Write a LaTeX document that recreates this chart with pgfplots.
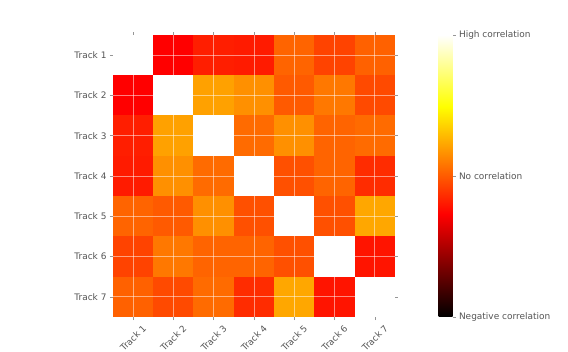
\documentclass[border=0pt]{standalone}
\usepackage{pgfplots}
\pgfplotsset{compat=1.18}
\usepackage{fontspec}
\setmainfont{DejaVu Sans}
\definecolor{txt}{RGB}{85,85,85}
\definecolor{tk}{RGB}{150,150,150}
\pgfplotstableread{
x y c
0 6 1
1 6 -0.27
2 6 -0.18
3 6 -0.19
4 6 0.03
5 6 -0.07
6 6 0.02
0 5 -0.27
1 5 1
2 5 0.21
3 5 0.16
4 5 0.00
5 5 0.09
6 5 -0.05
0 4 -0.18
1 4 0.21
2 4 1
3 4 0.05
4 4 0.16
5 4 0.03
6 4 0.05
0 3 -0.19
1 3 0.16
2 3 0.05
3 3 1
4 3 -0.03
5 3 0.03
6 3 -0.14
0 2 0.03
1 2 0.00
2 2 0.16
3 2 -0.03
4 2 1
5 2 -0.03
6 2 0.23
0 1 -0.07
1 1 0.09
2 1 0.03
3 1 0.03
4 1 -0.03
5 1 1
6 1 -0.21
0 0 0.02
1 0 -0.05
2 0 0.05
3 0 -0.14
4 0 0.23
5 0 -0.21
6 0 1
}\corr
\begin{document}
\begin{tikzpicture}
\begin{axis}[
  name=main,
  at={(113bp,35bp)}, anchor=south west,
  scale only axis, width=282bp, height=282bp,
  xmin=-0.5, xmax=6.5, ymin=-0.5, ymax=6.5,
  axis line style={draw=none},
  xtick={0,...,6}, ytick={0,...,6},
  xticklabels={Track 1,Track 2,Track 3,Track 4,Track 5,Track 6,Track 7},
  yticklabels={Track 7,Track 6,Track 5,Track 4,Track 3,Track 2,Track 1},
  tick align=outside, major tick length=3bp,
  tick style={tk, line width=0.6bp},
  grid=major, major grid style={white, opacity=0.5, line width=0.8bp},
  axis on top,
  colormap={hot}{rgb255(0cm)=(0,0,0) rgb255(3.65cm)=(255,0,0) rgb255(7.46cm)=(255,255,0) rgb255(10cm)=(255,255,255)},
  point meta min=-1, point meta max=1,
  font=\fontsize{9}{10}\selectfont,
  ticklabel style={text=txt},
  xticklabel style={yshift=-18bp, rotate=45, anchor=center},
  colorbar,
  colorbar style={
    at={(430bp,317bp)}, anchor=north west,
    scale only axis, width=14bp, height=282bp,
    ytick={-1,0,1},
    yticklabels={Negative correlation,No correlation,High correlation},
    ytick pos=right, yticklabel pos=right,
    xtick=\empty,
    axis line style={draw=none},
    tick align=outside, major tick length=3bp,
    ytick style={draw=tk, line width=0.6bp},
    font=\fontsize{9}{10}\selectfont,
    yticklabel style={text=txt},
  },
]
\addplot[matrix plot*, mesh/cols=7, shader=flat corner, point meta=explicit] table[x=x, y=y, meta=c] {\corr};
\end{axis}
\pgfresetboundingbox
\useasboundingbox (0,0) rectangle (568bp,352bp);
\end{tikzpicture}
\end{document}
